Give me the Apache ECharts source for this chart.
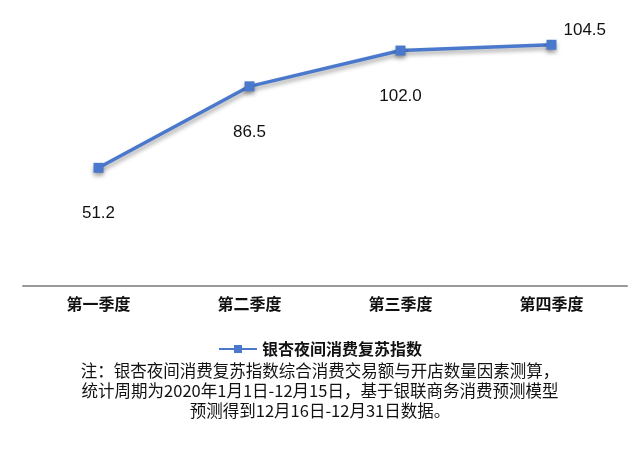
<!DOCTYPE html>
<html>
<head>
<meta charset="utf-8">
<script src="https://cdn.jsdelivr.net/npm/echarts@6/dist/echarts.min.js"></script>
<style>
  html, body { margin: 0; padding: 0; background: #fff; }
  #chart { width: 640px; height: 459px; }
</style>
</head>
<body>
<div id="chart"></div>
<script>
const categories = ['第一季度', '第二季度', '第三季度', '第四季度']
const seriesName = '银杏夜间消费复苏指数'
const values = [51.2, 86.5, 102.0, 104.5]
const noteLines = [
  '注：银杏夜间消费复苏指数综合消费交易额与开店数量因素测算，',
  '统计周期为2020年1月1日-12月15日，基于银联商务消费预测模型',
  '预测得到12月16日-12月31日数据。'
]

const font = '"Noto Sans CJK SC", "Noto Sans", sans-serif'
const numFont = '"Liberation Sans", Arial, sans-serif'
const chart = echarts.init(document.getElementById('chart'))

const option = {
  backgroundColor: '#fff',
  animation: false,
  textStyle: { fontFamily: font },
  grid: { left: 23, right: 13, top: 9, bottom: 173 },
  legend: {
    data: [seriesName],
    left: 'center',
    top: 336,
    itemWidth: 38,
    itemHeight: 10,
    itemGap: 4,
    textStyle: { fontSize: 16, fontWeight: 'bold', color: '#111', fontFamily: font }
  },
  xAxis: {
    type: 'category',
    data: categories,
    boundaryGap: true,
    axisLine: { lineStyle: { color: '#999', width: 2 } },
    axisTick: { show: false },
    axisLabel: { fontSize: 16, fontWeight: 'bold', color: '#111', margin: 10 }
  },
  yAxis: {
    type: 'value',
    min: 0,
    max: 120,
    show: false,
    splitLine: { show: false }
  },
  series: [{
    name: seriesName,
    type: 'line',
    data: values,
    symbol: 'rect',
    symbolSize: 10,
    lineStyle: {
      color: '#4a78cc',
      width: 3.5,
      shadowColor: 'rgba(0,0,0,0.35)',
      shadowBlur: 4,
      shadowOffsetX: 1,
      shadowOffsetY: 3
    },
    itemStyle: {
      color: '#4a78cc',
      shadowColor: 'rgba(0,0,0,0.35)',
      shadowBlur: 4,
      shadowOffsetY: 3
    },
    label: {
      show: true,
      position: 'bottom',
      distance: 32,
      fontSize: 17,
      color: '#111',
      fontFamily: numFont,
      formatter: p => p.value.toFixed(1)
    },
    labelLayout: function (params) {
      if (params.dataIndex === values.length - 1) {
        return { x: params.rect.x + 17, y: params.rect.y - 9, align: 'left', verticalAlign: 'middle' }
      }
      return {}
    }
  }],
  graphic: noteLines.map((t, i) => ({
    type: 'text',
    left: 'center',
    top: 362 + i * 20,
    style: { text: t, fontSize: 16.5, fill: '#111', fontFamily: font }
  }))
}

chart.setOption(option)
</script>
</body>
</html>
